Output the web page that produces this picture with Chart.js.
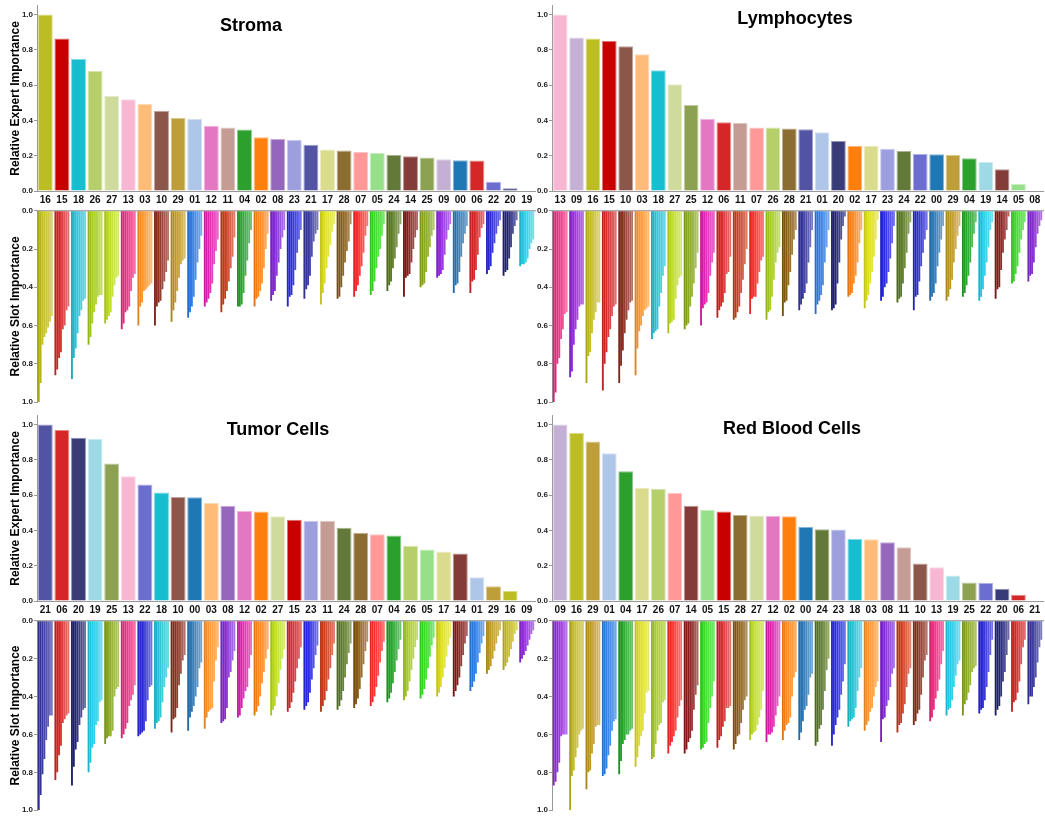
<!DOCTYPE html>
<html>
<head>
<meta charset="utf-8">
<script src="https://cdn.jsdelivr.net/npm/chart.js@4.4.1/dist/chart.umd.min.js"></script>
<style>
  body { margin: 0; background: #fff; width: 1045px; height: 816px; position: relative; overflow: hidden; font-family: "Liberation Sans", Arial, sans-serif; }
  canvas { position: absolute; }
  .title { position: absolute; font-weight: bold; font-size: 18px; line-height: 18px; color: #000; transform: translateX(-50%); white-space: nowrap; }
</style>
</head>
<body>
<canvas id="stromaTop" style="left:0px;top:0px" width="540" height="205"></canvas>
<canvas id="stromaBottom" style="left:0px;top:205px" width="540" height="205"></canvas>
<canvas id="lymphTop" style="left:520px;top:0px" width="525" height="205"></canvas>
<canvas id="lymphBottom" style="left:520px;top:205px" width="525" height="205"></canvas>
<canvas id="tumorTop" style="left:0px;top:410px" width="540" height="205"></canvas>
<canvas id="tumorBottom" style="left:0px;top:615px" width="540" height="201"></canvas>
<canvas id="rbcTop" style="left:520px;top:410px" width="525" height="205"></canvas>
<canvas id="rbcBottom" style="left:520px;top:615px" width="525" height="201"></canvas>
<div class="title" style="left:251px;top:16px">Stroma</div>
<div class="title" style="left:795px;top:9px">Lymphocytes</div>
<div class="title" style="left:278px;top:420px">Tumor Cells</div>
<div class="title" style="left:792px;top:419px">Red Blood Cells</div>
<script>
const FONT = '"Liberation Sans", Arial, sans-serif';

// bar colour of each expert in the expert importance charts
const expertColors = {
	'00': '#1f77b4', '01': '#aec7e8', '02': '#ff7f0e', '03': '#ffbb78', '04': '#2ca02c',
	'05': '#98df8a', '06': '#d62728', '07': '#ff9896', '08': '#9467bd', '09': '#c5b0d5',
	'10': '#8c564b', '11': '#c49c94', '12': '#e377c2', '13': '#f7b6d2', '14': '#843c39',
	'15': '#c80000', '16': '#bcbd22', '17': '#dbdb8d', '18': '#17becf', '19': '#9edae5',
	'20': '#393b79', '21': '#5254a3', '22': '#6b6ecf', '23': '#9c9ede', '24': '#637939',
	'25': '#8ca252', '26': '#b5cf6b', '27': '#cedb9c', '28': '#8c6d31', '29': '#bd9e39'
};

// base colour of the slot bars of each expert
const slotColors = {
	'00': '#2a78b8', '01': '#2a7de6', '02': '#ff8416', '03': '#ff9428', '04': '#22a428',
	'05': '#36dc22', '06': '#d82424', '07': '#ff2a2a', '08': '#8428d4', '09': '#9428e0',
	'10': '#8a2e1e', '11': '#cc3a1a', '12': '#e01eb0', '13': '#f0287e', '14': '#881818',
	'15': '#d42828', '16': '#c4bc1e', '17': '#dede1e', '18': '#1ec4d4', '19': '#1ecee6',
	'20': '#20207a', '21': '#3636a0', '22': '#2828d6', '23': '#2828e6', '24': '#58781e',
	'25': '#88a81e', '26': '#a6cc1e', '27': '#bede1e', '28': '#885810', '29': '#c0981e'
};

// ---- Stroma ----
const stromaExperts = ['16','15','18','26','27','13','03','10','29','01','12','11','04','02','08',
	'23','21','17','28','07','05','24','14','25','09','00','06','22','20','19'];
const stromaImportance = [1.0, 0.865, 0.75, 0.68, 0.54, 0.52, 0.495, 0.455, 0.415, 0.41, 0.37, 0.36, 0.348, 0.305, 0.295,
	0.29, 0.262, 0.235, 0.23, 0.222, 0.215, 0.205, 0.197, 0.19, 0.18, 0.175, 0.173, 0.052, 0.015, 0.003];
const stromaSlots = [
	[1.0,0.9,0.7,0.66,0.64,0.61,0.58,0.55], [0.86,0.83,0.77,0.74,0.62,0.6,0.52,0.5],
	[0.88,0.77,0.72,0.64,0.55,0.52,0.47,0.46], [0.7,0.66,0.59,0.53,0.49,0.45,0.44,0.44],
	[0.59,0.57,0.55,0.53,0.45,0.39,0.35,0.34], [0.62,0.59,0.53,0.52,0.5,0.42,0.35,0.33],
	[0.6,0.5,0.48,0.42,0.41,0.4,0.39,0.38], [0.6,0.5,0.48,0.47,0.41,0.37,0.32,0.26],
	[0.58,0.52,0.48,0.42,0.35,0.28,0.26,0.25], [0.56,0.53,0.5,0.45,0.36,0.27,0.2,0.13],
	[0.5,0.48,0.46,0.43,0.38,0.28,0.21,0.15], [0.53,0.49,0.46,0.42,0.37,0.3,0.24,0.14],
	[0.5,0.5,0.49,0.43,0.34,0.26,0.17,0.1], [0.5,0.46,0.45,0.42,0.38,0.3,0.2,0.12],
	[0.47,0.44,0.42,0.34,0.27,0.2,0.14,0.1], [0.5,0.45,0.44,0.39,0.31,0.22,0.15,0.1],
	[0.46,0.41,0.39,0.34,0.24,0.16,0.12,0.1], [0.49,0.43,0.38,0.3,0.24,0.18,0.11,0.07],
	[0.46,0.45,0.4,0.34,0.27,0.21,0.16,0.07], [0.45,0.42,0.39,0.34,0.29,0.22,0.13,0.08],
	[0.44,0.42,0.37,0.3,0.24,0.2,0.13,0.07], [0.42,0.39,0.37,0.3,0.25,0.19,0.12,0.07],
	[0.45,0.35,0.34,0.33,0.27,0.2,0.14,0.1], [0.4,0.39,0.38,0.32,0.24,0.19,0.13,0.1],
	[0.35,0.34,0.33,0.31,0.23,0.15,0.1,0.07], [0.43,0.39,0.38,0.32,0.24,0.17,0.12,0.08],
	[0.43,0.37,0.36,0.31,0.23,0.14,0.09,0.07], [0.33,0.31,0.29,0.22,0.17,0.12,0.08,0.05],
	[0.34,0.32,0.31,0.25,0.19,0.12,0.08,0.05], [0.29,0.28,0.28,0.27,0.25,0.2,0.17,0.15]
];

// ---- Lymphocytes ----
const lymphExperts = ['13','09','16','15','10','03','18','27','25','12','06','11','07','26','28',
	'21','01','20','02','17','23','24','22','00','29','04','19','14','05','08'];
const lymphImportance = [1.0, 0.87, 0.865, 0.85, 0.82, 0.775, 0.685, 0.605, 0.487, 0.41, 0.39, 0.387, 0.36, 0.36, 0.355,
	0.35, 0.333, 0.283, 0.257, 0.257, 0.24, 0.227, 0.21, 0.208, 0.205, 0.185, 0.165, 0.123, 0.04, 0.0];
const lymphSlots = [
	[1.0,0.95,0.8,0.77,0.67,0.62,0.54,0.53], [0.87,0.84,0.7,0.62,0.57,0.5,0.49,0.49],
	[0.9,0.76,0.74,0.64,0.57,0.53,0.48,0.48], [0.94,0.8,0.74,0.66,0.62,0.55,0.5,0.49],
	[0.9,0.81,0.73,0.64,0.57,0.52,0.48,0.47], [0.86,0.72,0.63,0.6,0.55,0.52,0.51,0.5],
	[0.67,0.64,0.63,0.62,0.5,0.43,0.34,0.29], [0.64,0.59,0.58,0.57,0.46,0.39,0.35,0.34],
	[0.62,0.6,0.59,0.5,0.45,0.38,0.3,0.22], [0.6,0.51,0.49,0.48,0.43,0.34,0.27,0.22],
	[0.56,0.52,0.5,0.48,0.43,0.33,0.32,0.24], [0.57,0.56,0.53,0.5,0.43,0.36,0.28,0.2],
	[0.54,0.46,0.45,0.45,0.38,0.32,0.26,0.24], [0.57,0.53,0.52,0.45,0.36,0.27,0.22,0.19],
	[0.55,0.48,0.47,0.39,0.32,0.23,0.15,0.1], [0.52,0.49,0.46,0.43,0.38,0.27,0.19,0.1],
	[0.54,0.49,0.47,0.44,0.39,0.27,0.19,0.1], [0.52,0.51,0.49,0.38,0.27,0.15,0.08,0.03],
	[0.45,0.44,0.43,0.38,0.34,0.27,0.17,0.1], [0.51,0.47,0.44,0.38,0.32,0.24,0.15,0.05],
	[0.47,0.45,0.4,0.38,0.32,0.25,0.17,0.08], [0.48,0.46,0.45,0.38,0.3,0.22,0.12,0.06],
	[0.52,0.45,0.44,0.37,0.29,0.22,0.15,0.1], [0.47,0.45,0.43,0.38,0.29,0.22,0.15,0.08],
	[0.47,0.45,0.41,0.36,0.27,0.2,0.13,0.08], [0.45,0.43,0.39,0.34,0.27,0.19,0.12,0.06],
	[0.47,0.45,0.41,0.34,0.27,0.19,0.1,0.06], [0.46,0.41,0.4,0.31,0.22,0.15,0.1,0.03],
	[0.38,0.37,0.33,0.29,0.22,0.15,0.1,0.06], [0.37,0.34,0.33,0.27,0.19,0.12,0.08,0.05]
];

// ---- Tumor Cells ----
const tumorExperts = ['21','06','20','19','25','13','22','18','10','00','03','08','12','02','27',
	'15','23','11','24','28','07','04','26','05','17','14','01','29','16','09'];
const tumorImportance = [1.0, 0.97, 0.925, 0.92, 0.78, 0.707, 0.66, 0.615, 0.59, 0.588, 0.555, 0.54, 0.51, 0.508, 0.48,
	0.46, 0.455, 0.455, 0.415, 0.387, 0.378, 0.372, 0.313, 0.292, 0.28, 0.27, 0.135, 0.083, 0.057, 0.0];
const tumorSlots = [
	[1.0,0.92,0.81,0.73,0.63,0.56,0.5,0.5], [0.84,0.8,0.71,0.66,0.54,0.52,0.5,0.49],
	[0.87,0.77,0.68,0.64,0.55,0.51,0.47,0.46], [0.8,0.75,0.67,0.65,0.55,0.53,0.43,0.42],
	[0.65,0.62,0.61,0.61,0.58,0.4,0.36,0.35], [0.62,0.6,0.57,0.54,0.45,0.42,0.39,0.34],
	[0.61,0.6,0.59,0.58,0.53,0.42,0.35,0.34], [0.57,0.54,0.53,0.51,0.43,0.35,0.3,0.25],
	[0.59,0.52,0.51,0.46,0.34,0.28,0.21,0.18], [0.58,0.51,0.48,0.45,0.4,0.35,0.25,0.22],
	[0.57,0.51,0.48,0.47,0.46,0.32,0.21,0.14], [0.54,0.53,0.52,0.46,0.3,0.27,0.21,0.16],
	[0.51,0.5,0.46,0.41,0.37,0.35,0.25,0.18], [0.5,0.48,0.45,0.4,0.33,0.27,0.2,0.15],
	[0.5,0.47,0.45,0.4,0.33,0.26,0.2,0.15], [0.48,0.46,0.43,0.38,0.32,0.25,0.2,0.14],
	[0.47,0.45,0.43,0.38,0.31,0.25,0.18,0.13], [0.48,0.45,0.42,0.37,0.31,0.25,0.18,0.12],
	[0.47,0.45,0.42,0.37,0.3,0.23,0.17,0.12], [0.46,0.44,0.41,0.36,0.3,0.23,0.16,0.11],
	[0.45,0.43,0.4,0.35,0.29,0.22,0.16,0.11], [0.43,0.41,0.38,0.33,0.27,0.21,0.15,0.1],
	[0.42,0.4,0.37,0.32,0.26,0.2,0.14,0.1], [0.41,0.39,0.36,0.31,0.25,0.19,0.13,0.09],
	[0.4,0.38,0.35,0.3,0.25,0.19,0.13,0.09], [0.4,0.37,0.34,0.3,0.24,0.18,0.12,0.08],
	[0.37,0.35,0.32,0.28,0.22,0.17,0.12,0.08], [0.28,0.26,0.24,0.2,0.16,0.12,0.08,0.05],
	[0.26,0.24,0.22,0.19,0.15,0.11,0.07,0.05], [0.22,0.2,0.18,0.16,0.13,0.1,0.07,0.05]
];

// ---- Red Blood Cells ----
const rbcExperts = ['09','16','29','01','04','17','26','07','14','05','15','28','27','12','02',
	'00','24','23','18','03','08','11','10','13','19','25','22','20','06','21'];
const rbcImportance = [1.0, 0.953, 0.905, 0.837, 0.735, 0.642, 0.637, 0.612, 0.54, 0.518, 0.508, 0.488, 0.485, 0.482, 0.48,
	0.42, 0.407, 0.405, 0.352, 0.35, 0.333, 0.305, 0.212, 0.192, 0.145, 0.105, 0.102, 0.07, 0.035, 0.0];
const rbcSlots = [
	[0.87,0.85,0.8,0.75,0.61,0.6,0.6,0.6], [1.0,0.82,0.79,0.72,0.67,0.6,0.58,0.57],
	[0.89,0.8,0.79,0.7,0.65,0.56,0.55,0.55], [0.82,0.81,0.78,0.71,0.66,0.58,0.53,0.52],
	[0.81,0.74,0.65,0.63,0.6,0.6,0.58,0.57], [0.77,0.72,0.66,0.61,0.58,0.49,0.38,0.37],
	[0.73,0.72,0.65,0.58,0.55,0.54,0.43,0.42], [0.7,0.66,0.64,0.61,0.58,0.51,0.45,0.42],
	[0.7,0.68,0.64,0.62,0.58,0.47,0.39,0.34], [0.68,0.67,0.65,0.64,0.54,0.46,0.4,0.32],
	[0.67,0.63,0.61,0.56,0.53,0.46,0.46,0.45], [0.68,0.65,0.61,0.6,0.54,0.47,0.42,0.4],
	[0.63,0.6,0.59,0.58,0.55,0.51,0.47,0.37], [0.64,0.6,0.6,0.59,0.56,0.5,0.45,0.4],
	[0.63,0.58,0.55,0.54,0.51,0.4,0.3,0.27], [0.63,0.59,0.53,0.47,0.45,0.39,0.3,0.28],
	[0.66,0.64,0.57,0.55,0.47,0.37,0.26,0.2], [0.66,0.6,0.55,0.51,0.47,0.39,0.32,0.23],
	[0.56,0.53,0.52,0.51,0.46,0.37,0.3,0.25], [0.58,0.55,0.53,0.48,0.46,0.4,0.35,0.32],
	[0.64,0.52,0.51,0.45,0.42,0.35,0.28,0.25], [0.59,0.55,0.54,0.49,0.44,0.35,0.28,0.25],
	[0.55,0.53,0.49,0.47,0.39,0.3,0.21,0.18], [0.53,0.51,0.47,0.41,0.37,0.31,0.23,0.16],
	[0.5,0.47,0.46,0.42,0.35,0.29,0.23,0.21], [0.5,0.44,0.42,0.38,0.34,0.27,0.25,0.24],
	[0.49,0.47,0.46,0.42,0.35,0.27,0.18,0.1], [0.5,0.47,0.45,0.4,0.32,0.27,0.18,0.1],
	[0.48,0.43,0.42,0.38,0.32,0.23,0.14,0.1], [0.44,0.4,0.4,0.35,0.3,0.22,0.14,0.1]
];

const yTicks = [0, 0.2, 0.4, 0.6, 0.8, 1.0];

// t < 0 darkens, t > 0 lightens towards white
function shade(hex, t) {
	const n = parseInt(hex.slice(1), 16);
	let r = n >> 16, g = (n >> 8) & 255, b = n & 255;
	if (t < 0) {
		r *= 1 + t; g *= 1 + t; b *= 1 + t;
	} else {
		r += (255 - r) * t; g += (255 - g) * t; b += (255 - b) * t;
	}
	return 'rgb(' + Math.round(r) + ',' + Math.round(g) + ',' + Math.round(b) + ')';
}

function yAxis(width, title, reverse, max) {
	return {
		min: 0,
		max: max,
		reverse: reverse,
		afterFit: s => { s.width = width; },
		afterBuildTicks: s => { s.ticks = yTicks.map(v => ({ value: v })); },
		grid: { drawOnChartArea: false, tickLength: 3, color: '#999' },
		border: { color: '#999' },
		ticks: {
			padding: 1,
			color: '#222',
			font: { family: FONT, size: 8, weight: 'bold' },
			callback: v => v.toFixed(1)
		},
		title: {
			display: !!title,
			text: title,
			color: '#000',
			padding: { top: 8, bottom: 0 },
			font: { family: FONT, size: 12, weight: 'bold' }
		}
	};
}

function topChart(id, experts, values, opts) {
	new Chart(document.getElementById(id), {
		type: 'bar',
		data: {
			labels: experts,
			datasets: [{
				data: values,
				backgroundColor: experts.map(e => expertColors[e]),
				borderColor: experts.map(e => shade(expertColors[e], 0.45)),
				borderWidth: 1,
				categoryPercentage: 0.9,
				barPercentage: 1
			}]
		},
		options: {
			responsive: false,
			animation: false,
			devicePixelRatio: 1,
			layout: { padding: { top: opts.padTop, right: opts.padRight, left: 0, bottom: 0 } },
			plugins: { legend: { display: false }, tooltip: { enabled: false } },
			scales: {
				x: {
					afterFit: s => { s.height = 14; },
					grid: { display: false, drawTicks: false },
					border: { color: '#999' },
					ticks: {
						autoSkip: false,
						maxRotation: 0,
						padding: 3,
						color: '#111',
						font: { family: FONT, size: 10, weight: 'bold' }
					}
				},
				y: yAxis(opts.axisWidth, opts.title, false, 1.05)
			}
		}
	});
}

function slotChart(id, experts, slots, opts) {
	const datasets = [];
	for (let s = 0; s < 8; s++) {
		datasets.push({
			data: slots.map(a => a[s]),
			backgroundColor: experts.map(e => shade(slotColors[e], -0.12 + s * 0.065)),
			borderWidth: 0,
			categoryPercentage: 0.9,
			barPercentage: 1
		});
	}
	new Chart(document.getElementById(id), {
		type: 'bar',
		data: { labels: experts, datasets: datasets },
		options: {
			responsive: false,
			animation: false,
			devicePixelRatio: 1,
			layout: { padding: { top: 0, right: opts.padRight, left: 0, bottom: opts.padBottom } },
			plugins: { legend: { display: false }, tooltip: { enabled: false } },
			scales: {
				x: {
					position: 'top',
					afterFit: s => { s.height = 4; },
					grid: { display: false, drawTicks: false },
					border: { color: '#aaa', width: 1.5 },
					ticks: { display: false }
				},
				y: yAxis(opts.axisWidth, opts.title, true, 1.0)
			}
		}
	});
}

topChart('stromaTop', stromaExperts, stromaImportance, { padTop: 3, padRight: 5, axisWidth: 37, title: 'Relative Expert Importance' });
slotChart('stromaBottom', stromaExperts, stromaSlots, { padRight: 5, padBottom: 8, axisWidth: 37, title: 'Relative Slot Importance' });
topChart('lymphTop', lymphExperts, lymphImportance, { padTop: 3, padRight: 2, axisWidth: 32, title: '' });
slotChart('lymphBottom', lymphExperts, lymphSlots, { padRight: 2, padBottom: 8, axisWidth: 32, title: '' });
topChart('tumorTop', tumorExperts, tumorImportance, { padTop: 2, padRight: 5, axisWidth: 37, title: 'Relative Expert Importance' });
slotChart('tumorBottom', tumorExperts, tumorSlots, { padRight: 5, padBottom: 5, axisWidth: 37, title: 'Relative Slot Importance' });
topChart('rbcTop', rbcExperts, rbcImportance, { padTop: 2, padRight: 2, axisWidth: 32, title: '' });
slotChart('rbcBottom', rbcExperts, rbcSlots, { padRight: 2, padBottom: 5, axisWidth: 32, title: '' });
</script>
</body>
</html>
